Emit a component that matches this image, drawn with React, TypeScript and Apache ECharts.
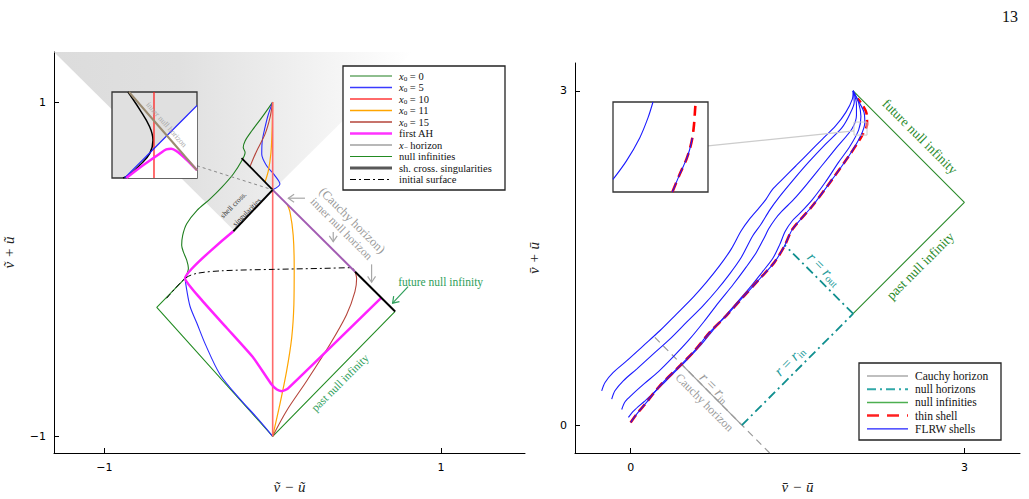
import React, { useEffect, useRef } from 'react';
import * as echarts from 'echarts';

type P = [number, number];

const SERIF = "'Liberation Serif','DejaVu Serif',serif";
const SANS = "'DejaVu Sans',sans-serif";

// ---------- left panel data ----------
const leftXTicks = [-1, 1];
const leftYTicks = [-1, 1];
const shadeTriangle: P[] = [[-1.3, 1.3], [-0.236, 0.237], [0.83, 1.3]];
const nullInfLeft: P[] = [[-0.521, -0.055], [-0.689, -0.229], [0, -1], [0.728, -0.253]];
const x0Curve0: P[] = [[-0.521, -0.055], [-0.501, 0.005], [-0.511, 0.054], [-0.531, 0.104], [-0.541, 0.143], [-0.535, 0.203], [-0.511, 0.272], [-0.451, 0.351], [-0.372, 0.421], [-0.303, 0.49], [-0.234, 0.57], [-0.184, 0.649], [-0.164, 0.699], [-0.175, 0.728], [-0.164, 0.768], [-0.125, 0.827], [-0.065, 0.907], [0, 1]];
const x0Curve5Low: P[] = [[0, -1], [-0.095, -0.887], [-0.194, -0.778], [-0.313, -0.63], [-0.4, -0.45], [-0.451, -0.322], [-0.491, -0.223], [-0.511, -0.124], [-0.521, -0.055]];
const x0Curve5Up: P[] = [[0, 0.475], [0.043, 0.51], [0.014, 0.559], [-0.036, 0.619], [-0.065, 0.688], [-0.062, 0.768], [-0.046, 0.847], [-0.026, 0.926], [0, 1]];
const x0Curve10: P[] = [[0, -1], [0, 1]];
const x0Curve11Low: P[] = [[0, -1], [0.043, -0.808], [0.083, -0.609], [0.113, -0.411], [0.126, -0.213], [0.128, 0.005], [0.122, 0.203], [0.103, 0.342], [0.085, 0.39]];
const x0Curve11Up: P[] = [[-0.046, 0.521], [-0.026, 0.589], [-0.01, 0.7], [-0.003, 0.85], [0, 1]];
const x0Curve15Low: P[] = [[0, -1], [0.083, -0.847], [0.202, -0.669], [0.34, -0.451], [0.439, -0.273], [0.489, -0.134], [0.499, -0.055], [0.49, -0.015]];
const x0Curve15Up: P[] = [[-0.135, 0.614], [-0.095, 0.708], [-0.046, 0.807], [-0.016, 0.907], [0, 1]];
const firstAH: P[] = [[-0.234, 0.227], [-0.521, -0.055], [-0.432, -0.173], [-0.273, -0.352], [-0.115, -0.53], [-0.01, -0.685], [0.025, -0.72], [0.055, -0.73], [0.09, -0.715], [0.645, -0.172]];
const initialSurface: P[] = [[-0.63, -0.174], [-0.521, -0.055], [-0.451, -0.025], [-0.293, -0.009], [0.004, -0.001], [0.301, 0.005], [0.469, 0.009], [0.49, -0.015]];
const xMinusHorizon: P[] = [[0, 0.475], [0.49, -0.015]];
const shellCrossing: P[] = [[-0.234, 0.227], [0, 0.475]];
const upperBlack: P[] = [[-0.185, 0.665], [0, 0.475]];
const rightBlack: P[] = [[0.49, -0.015], [0.728, -0.253]];
const leftInsetLink: P[] = [[-0.45, 0.619], [0, 0.475]];

// left inset (unit square)
const insetLWhite: P[] = [[0.149, 0], [1, 0.843], [1, 0]];
const insetLBlack: P[] = [[0.188, 1], [0.325, 0.798], [0.443, 0.596], [0.482, 0.439], [0.443, 0.283], [0.325, 0.148], [0.208, 0.036], [0.129, 0]];
const insetLRed: P[] = [[0.494, 0], [0.494, 1]];
const insetLBlue: P[] = [[0.149, 0], [1, 0.843]];
const insetLMagenta: P[] = [[0.169, 0], [0.365, 0.148], [0.561, 0.283], [0.639, 0.332], [0.698, 0.341], [0.757, 0.314], [0.875, 0.215], [1, 0.09]];
const insetLHorizon: P[] = [[0.2, 1], [1, 0.09]];

// ---------- right panel data ----------
const rightXTicks = [0, 3];
const rightYTicks = [0, 3];
const nullInfRight: P[] = [[2, 3], [3, 2], [2, 1]];
const nullHorizonIn: P[] = [[1, 0], [2, 1]];
const nullHorizonOut: P[] = [[2, 1], [1.384, 1.616]];
const cauchyDashed: P[] = [[0.218, 0.787], [1.25, -0.25]];
const cauchySolid: P[] = [[0.456, 0.548], [1, 0]];
const flrw1: P[] = [[-0.26, 0.308], [-0.23, 0.383], [-0.156, 0.473], [-0.036, 0.577], [0.113, 0.712], [0.262, 0.847], [0.412, 0.997], [0.561, 1.147], [0.68, 1.281], [0.8, 1.431], [0.904, 1.58], [0.994, 1.744], [1.068, 1.849], [1.158, 1.954], [1.218, 2.029], [1.277, 2.118], [1.366, 2.208], [1.486, 2.328], [1.605, 2.448], [1.724, 2.567], [1.844, 2.687], [1.934, 2.807], [1.993, 2.926], [2, 3]];
const flrw2: P[] = [[-0.17, 0.233], [-0.141, 0.308], [-0.066, 0.398], [0.054, 0.503], [0.202, 0.637], [0.352, 0.772], [0.501, 0.922], [0.65, 1.071], [0.77, 1.206], [0.889, 1.356], [0.994, 1.505], [1.098, 1.7], [1.17, 1.8], [1.25, 1.93], [1.33, 2.04], [1.47, 2.21], [1.6, 2.36], [1.75, 2.52], [1.9, 2.67], [1.97, 2.79], [2.01, 2.9], [2, 3]];
const flrw3: P[] = [[-0.08, 0.14], [-0.05, 0.21], [0.02, 0.28], [0.12, 0.37], [0.25, 0.48], [0.38, 0.61], [0.52, 0.76], [0.66, 0.93], [0.79, 1.1], [0.92, 1.26], [1.04, 1.42], [1.13, 1.55], [1.2, 1.68], [1.24, 1.76], [1.3, 1.85], [1.36, 1.92], [1.47, 2.03], [1.59, 2.17], [1.72, 2.33], [1.85, 2.49], [1.99, 2.66], [2.03, 2.78], [2.03, 2.88], [2, 3]];
const flrw4: P[] = [[-0.02, 0.07], [0.03, 0.13], [0.12, 0.21], [0.24, 0.32], [0.37, 0.45], [0.5, 0.58], [0.64, 0.73], [0.78, 0.9], [0.92, 1.06], [1.06, 1.22], [1.18, 1.37], [1.28, 1.5], [1.34, 1.62], [1.39, 1.74], [1.45, 1.83], [1.52, 1.9], [1.63, 2.02], [1.75, 2.18], [1.87, 2.36], [1.97, 2.5], [2.05, 2.65], [2.07, 2.77], [2.05, 2.89], [2, 3]];
const flrw5: P[] = [[0, 0.024], [0.054, 0.099], [0.143, 0.204], [0.262, 0.353], [0.412, 0.503], [0.561, 0.653], [0.71, 0.832], [0.859, 0.981], [1.008, 1.146], [1.158, 1.311], [1.292, 1.461], [1.384, 1.61], [1.456, 1.76], [1.635, 1.969], [1.814, 2.208], [1.963, 2.417], [2.068, 2.597], [2.105, 2.717], [2.098, 2.807], [2.038, 2.926], [2, 3]];
const thinShell: P[] = [[0, 0.024], [0.054, 0.099], [0.143, 0.204], [0.262, 0.353], [0.412, 0.503], [0.561, 0.653], [0.71, 0.832], [0.859, 0.981], [1.008, 1.146], [1.158, 1.311], [1.292, 1.461], [1.384, 1.61], [1.456, 1.76], [1.635, 1.969], [1.814, 2.208], [1.963, 2.417], [2.075, 2.59], [2.125, 2.7], [2.12, 2.8], [2.08, 2.88], [2.04, 2.93]];
const zoomBox: P[] = [[2.008, 2.603], [2.125, 2.603], [2.125, 2.72], [2.008, 2.72], [2.008, 2.603]];
const zoomLink: P[] = [[0.695, 2.507], [2.008, 2.64]];

// right inset (unit square)
const insetRBlue1: P[] = [[0, 0.14], [0.14, 0.343], [0.281, 0.601], [0.368, 0.823], [0.421, 1]];
const insetRBlue2: P[] = [[0.625, 0], [0.702, 0.196], [0.772, 0.362], [0.807, 0.472], [0.835, 0.601]];
const insetRRed: P[] = [[0.625, 0], [0.702, 0.196], [0.772, 0.362], [0.807, 0.472], [0.835, 0.601], [0.853, 0.75], [0.863, 0.9], [0.87, 1]];

// ---------- annotations ----------
const leftNotes = [
  { text: 'shell cross.', pos: [-0.234, 0.385], rot: Math.PI / 4, color: '#333', size: 7.5 },
  { text: 'singularities', pos: [-0.154, 0.342], rot: Math.PI / 4, color: '#333', size: 7.5 },
  { text: '(Cauchy horizon)', pos: [0.473, 0.292], rot: -Math.PI / 4, color: '#9a9a9a', size: 12.5 },
  { text: 'inner null horizon', pos: [0.41, 0.243], rot: -Math.PI / 4, color: '#9a9a9a', size: 11.5 },
  { text: 'past null infinity', pos: [0.4, -0.679], rot: Math.PI / 4, color: '#2e9e5a', size: 11.5 },
];
const leftFutureLabel = { text: 'future null infinity', pos: [0.746, -0.074], color: '#2e9e5a', size: 11.5 };
const leftArrows = [
  { tail: [0.192, 0.425], head: [0.093, 0.425], color: '#a8a8a8' },
  { tail: [0.36, 0.222], head: [0.36, 0.165], color: '#a8a8a8' },
  { tail: [0.588, 0.029], head: [0.588, -0.078], color: '#a8a8a8' },
  { tail: [0.805, -0.104], head: [0.713, -0.203], color: '#2e9e5a' },
];
const rightNotes = [
  { text: 'future null infinity', pos: [2.6, 2.59], rot: -Math.PI / 4, color: '#2a8a2a', size: 13.5 },
  { text: 'past null infinity', pos: [2.605, 1.43], rot: Math.PI / 4, color: '#2a8a2a', size: 13.5 },
  { text: '{i|r} = {i|r}{s|out}', pos: [1.74, 1.4], rot: -Math.PI / 4, color: '#1a9a9a', size: 15 },
  { text: '{i|r} = {i|r}{s|in}', pos: [1.426, 0.577], rot: Math.PI / 4, color: '#1a9a9a', size: 15 },
  { text: '{i|r} = {i|r}{s|in}', pos: [0.755, 0.338], rot: -Math.PI / 4, color: '#9a9a9a', size: 15 },
  { text: 'Cauchy horizon', pos: [0.665, 0.204], rot: -Math.PI / 4, color: '#9a9a9a', size: 12 },
];

const leftLegendLabels = ['{i|x}{s|0} = 0', '{i|x}{s|0} = 5', '{i|x}{s|0} = 10', '{i|x}{s|0} = 11', '{i|x}{s|0} = 15', 'first AH', '{i|x}{s|\u2212} horizon', 'null infinities', 'sh. cross. singularities', 'initial surface'];
const leftLegendColors = ['#1f7f1f', '#3a3aff', '#ff6a6a', '#ffa500', '#b5443a', '#ff33ff', '#a0a0a0', '#228b22', '#585858', '#000'];
const leftLegendWidths = [1.2, 1.5, 2, 1.5, 1.5, 2.5, 1.5, 1.2, 2.8, 1];
const rightLegendLabels = ['Cauchy horizon', 'null horizons', 'null infinities', 'thin shell', 'FLRW shells'];
const rightLegendColors = ['#aaaaaa', '#30a8a8', '#4caf50', '#ff2020', '#2020ff'];
const rightLegendWidths = [1.5, 2, 1.5, 2.5, 1.2];
const rightLegendDash: any[] = ['solid', [9, 4, 2, 4], 'solid', [12, 8], 'solid'];

const fmt = (v: number) => (v < 0 ? '\u2212' + Math.abs(v) : String(v));

function ln(g: number, data: P[], color: string, width: number, opts: any = {}) {
  return {
    type: 'line', xAxisIndex: g, yAxisIndex: g, data, symbol: 'none', showSymbol: false, silent: true,
    lineStyle: { color, width, type: opts.type ?? 'solid' }, smooth: opts.smooth ?? false, z: opts.z ?? 2, clip: true,
  };
}

function poly(g: number, pts: P[], fill: any, z: number) {
  return {
    type: 'custom', xAxisIndex: g, yAxisIndex: g, z, silent: true, data: [[pts[0][0], pts[0][1]]],
    renderItem: (_p: any, api: any) => ({ type: 'polygon', shape: { points: pts.map((p) => api.coord(p)) }, style: { fill } }),
  };
}

function axisPair(g: number, min: number, max: number, ticks: number[], name: string, gap: number, isX: boolean) {
  return {
    gridIndex: g, type: 'value', min, max, name, nameLocation: 'middle', nameGap: gap,
    nameTextStyle: { fontFamily: SERIF, fontStyle: 'italic', fontSize: 15, color: '#222' },
    axisLine: { show: true, onZero: false, lineStyle: { color: '#000', width: 1 } },
    axisTick: { show: true, inside: true, length: 5, customValues: ticks, lineStyle: { color: '#000' } },
    axisLabel: { customValues: ticks, formatter: fmt, color: '#000', fontSize: 11, fontFamily: SANS, margin: isX ? 9 : 8 },
    splitLine: { show: false },
  };
}

function hiddenAxis(g: number) {
  return { gridIndex: g, type: 'value', min: 0, max: 1, show: false, splitLine: { show: false } };
}

export default function App() {
  const ref = useRef<HTMLDivElement>(null);
  useEffect(() => {
    const chart = echarts.init(ref.current!, null, { renderer: 'svg' });
    const shadeFill = new echarts.graphic.LinearGradient(0, 0, 1, 0, [
      { offset: 0, color: '#dcdcdc' }, { offset: 0.35, color: '#e0e0e0' }, { offset: 1, color: '#ffffff' },
    ]);
    const option: any = {
      animation: false,
      textStyle: { fontFamily: SERIF },
      grid: [
        { left: 54, top: 52, width: 471, height: 404, show: false },
        { left: 575, top: 63, width: 445, height: 391, show: false },
        { left: 112, top: 92, width: 85, height: 86, show: true, backgroundColor: '#e0e0e0', borderColor: '#333', borderWidth: 1.3, z: 3 },
        { left: 613, top: 102, width: 95, height: 90, show: true, backgroundColor: '#fff', borderColor: '#333', borderWidth: 1.3, z: 3 },
      ],
      xAxis: [
        axisPair(0, -1.3, 1.5, leftXTicks, '\u1E7D \u2212 \u0169', 26, true),
        axisPair(1, -0.5, 3.5, rightXTicks, 'v\u0304 \u2212 \u016B', 26, true),
        hiddenAxis(2), hiddenAxis(3),
      ],
      yAxis: [
        axisPair(0, -1.1, 1.3, leftYTicks, '\u1E7D + \u0169', 38, false),
        axisPair(1, -0.25, 3.25, rightYTicks, 'v\u0304 + \u016B', 34, false),
        hiddenAxis(2), hiddenAxis(3),
      ],
      series: [
        poly(0, shadeTriangle, shadeFill, 1),
        ln(0, nullInfLeft, '#228b22', 1.1),
        ln(0, x0Curve0, '#1f7f1f', 1.1, { smooth: 0.3 }),
        ln(0, x0Curve5Low, '#2a2aff', 1.1, { smooth: 0.3 }),
        ln(0, x0Curve5Up, '#2a2aff', 1.1, { smooth: 0.3 }),
        ln(0, x0Curve11Low, '#ffa500', 1.2, { smooth: 0.3 }),
        ln(0, x0Curve11Up, '#ffa500', 1.2, { smooth: 0.3 }),
        ln(0, x0Curve15Low, '#b5443a', 1.1, { smooth: 0.3 }),
        ln(0, x0Curve15Up, '#b5443a', 1.1, { smooth: 0.3 }),
        ln(0, x0Curve10, '#ff6a6a', 1.6),
        ln(0, firstAH, '#ff22ff', 2.5, { smooth: 0.15 }),
        ln(0, initialSurface, '#000', 1, { type: [6, 3, 2, 3], smooth: 0.3 }),
        ln(0, xMinusHorizon, '#a25cb2', 2),
        ln(0, shellCrossing, '#000', 2),
        ln(0, upperBlack, '#000', 1.8),
        ln(0, rightBlack, '#000', 2),
        ln(0, leftInsetLink, '#888', 1, { type: [3, 3] }),
        // left inset
        poly(2, insetLWhite, '#ffffff', 4),
        ln(2, insetLBlack, '#000', 1.5, { smooth: 0.4, z: 5 }),
        ln(2, insetLRed, '#ff2020', 1.3, { z: 5 }),
        ln(2, insetLBlue, '#2020ff', 1.1, { z: 5 }),
        ln(2, insetLMagenta, '#ff22ff', 2.5, { smooth: 0.3, z: 5 }),
        ln(2, insetLHorizon, '#9a8a70', 2, { z: 5 }),
        // right panel
        ln(1, nullInfRight, '#2a8a2a', 1.1),
        ln(1, cauchyDashed, '#9a9a9a', 1.2, { type: [7, 5] }),
        ln(1, cauchySolid, '#9a9a9a', 1.2),
        ln(1, nullHorizonIn, '#108f8f', 1.8, { type: [9, 4, 2, 4] }),
        ln(1, nullHorizonOut, '#108f8f', 1.8, { type: [9, 4, 2, 4] }),
        ln(1, flrw1, '#1a1aff', 1.1, { smooth: 0.3 }),
        ln(1, flrw2, '#1a1aff', 1.1, { smooth: 0.3 }),
        ln(1, flrw3, '#1a1aff', 1.1, { smooth: 0.3 }),
        ln(1, flrw4, '#1a1aff', 1.1, { smooth: 0.3 }),
        ln(1, thinShell, '#ff0000', 2.6, { type: [9, 5], smooth: 0.3 }),
        ln(1, flrw5, '#1a1aff', 1.1, { smooth: 0.3 }),
        ln(1, zoomBox, '#cccccc', 1),
        ln(1, zoomLink, '#cccccc', 1.2),
        // right inset
        ln(3, insetRBlue1, '#1a1aff', 1.1, { smooth: 0.3, z: 5 }),
        ln(3, insetRRed, '#ff0000', 2.6, { type: [10, 6], smooth: 0.3, z: 5 }),
        ln(3, insetRBlue2, '#1a1aff', 1.1, { smooth: 0.3, z: 5 }),
      ],
    };
    chart.setOption(option);

    const px = (g: number, p: number[]) => chart.convertToPixel({ gridIndex: g } as any, p) as unknown as number[];
    const richFor = (color: string, size: number) => ({
      i: { fontStyle: 'italic', fontFamily: SERIF, fontSize: size, fill: color, lineHeight: Math.round(size * 1.1) },
      s: { fontFamily: SERIF, fontSize: size * 0.68, fill: color, verticalAlign: 'bottom', lineHeight: Math.round(size * 0.5) },
    });
    const textEl = (x: number, y: number, rot: number, text: string, color: string, size: number, align = 'center') => ({
      type: 'text', x, y, rotation: rot, z: 60, silent: true,
      style: { text, fill: color, fontSize: size, fontFamily: SERIF, align, verticalAlign: 'middle', lineHeight: Math.round(size * 1.1), rich: richFor(color, size) },
    });
    const g: any[] = [];
    leftNotes.forEach((n) => { const [x, y] = px(0, n.pos); g.push(textEl(x, y, n.rot, n.text, n.color, n.size)); });
    { const [x, y] = px(0, leftFutureLabel.pos); g.push(textEl(x, y, 0, leftFutureLabel.text, leftFutureLabel.color, leftFutureLabel.size, 'left')); }
    { const [x, y] = px(2, [0.64, 0.62]); g.push(textEl(x, y, -0.85, 'inner null horizon', '#a8a8a8', 8)); }
    rightNotes.forEach((n) => { const [x, y] = px(1, n.pos); g.push(textEl(x, y, n.rot, n.text, n.color, n.size)); });
    leftArrows.forEach((a) => {
      const t = px(0, a.tail); const h = px(0, a.head);
      const dx = h[0] - t[0], dy = h[1] - t[1]; const L = Math.hypot(dx, dy); const ux = dx / L, uy = dy / L;
      const ang = 0.6, len = 7;
      const w1 = [h[0] - len * (ux * Math.cos(ang) - uy * Math.sin(ang)), h[1] - len * (uy * Math.cos(ang) + ux * Math.sin(ang))];
      const w2 = [h[0] - len * (ux * Math.cos(-ang) - uy * Math.sin(-ang)), h[1] - len * (uy * Math.cos(-ang) + ux * Math.sin(-ang))];
      g.push({ type: 'line', z: 60, silent: true, shape: { x1: t[0], y1: t[1], x2: h[0], y2: h[1] }, style: { stroke: a.color, lineWidth: 1.2 } });
      g.push({ type: 'polyline', z: 60, silent: true, shape: { points: [w1, h, w2] }, style: { stroke: a.color, lineWidth: 1.2, fill: null } });
    });
    // legends
    const legend = (bx: number, by: number, bw: number, bh: number, y0: number, dy: number, lx1: number, lx2: number, tx: number,
      labels: string[], colors: string[], widths: number[], dashes: any[], size: number) => {
      g.push({ type: 'rect', z: 70, silent: true, shape: { x: bx, y: by, width: bw, height: bh }, style: { fill: '#fff', stroke: '#222', lineWidth: 1.3 } });
      labels.forEach((lab, k) => {
        const yy = y0 + k * dy;
        g.push({ type: 'line', z: 71, silent: true, shape: { x1: lx1, y1: yy, x2: lx2, y2: yy }, style: { stroke: colors[k], lineWidth: widths[k], lineDash: dashes[k] === 'solid' ? null : dashes[k] } });
        g.push(textEl(tx, yy, 0, lab, '#111', size, 'left'));
        g[g.length - 1].z = 72;
      });
    };
    legend(343, 66, 162, 124, 76, 11.5, 350, 392, 399, leftLegendLabels, leftLegendColors, leftLegendWidths,
      ['solid', 'solid', 'solid', 'solid', 'solid', 'solid', 'solid', 'solid', 'solid', [6, 3, 2, 3]], 10.5);
    legend(859, 363, 142, 77, 376, 13.2, 867, 908, 915, rightLegendLabels, rightLegendColors, rightLegendWidths, rightLegendDash, 11.5);
    g.push({ type: 'text', x: 1018, y: 16, z: 60, silent: true, style: { text: '13', fill: '#111', fontSize: 16, fontFamily: SERIF, align: 'right', verticalAlign: 'middle' } });
    chart.setOption({ graphic: g });
    return () => chart.dispose();
  }, []);
  return <div ref={ref} style={{ position: 'fixed', left: 0, top: 0, width: 1029, height: 499, background: '#fff' }} />;
}
